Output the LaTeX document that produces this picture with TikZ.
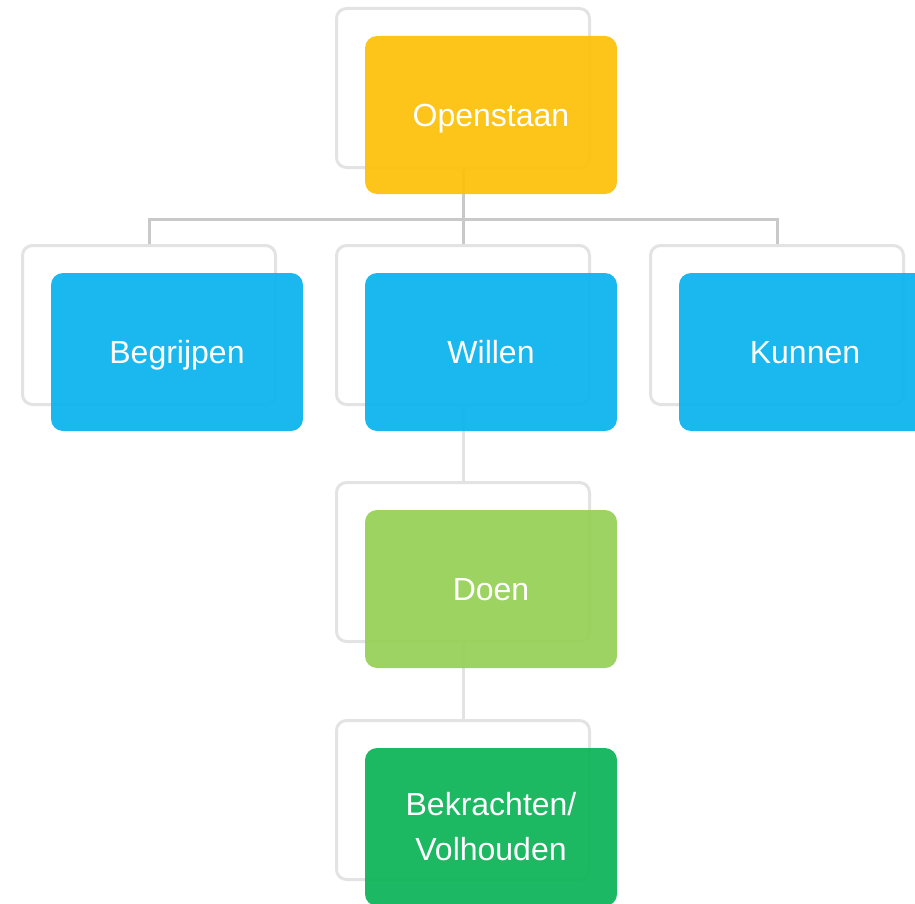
\documentclass[tikz,border=0pt]{standalone}
\usepackage{fontspec}
\setmainfont{Liberation Sans}
\usetikzlibrary{positioning}

\definecolor{oYellow}{HTML}{FDC009}
\definecolor{oBlue}{HTML}{0AB3EE}
\definecolor{oLime}{HTML}{96D056}
\definecolor{oGreen}{HTML}{0CB357}
\definecolor{oFrame}{HTML}{E3E3E3}
\definecolor{oLine}{HTML}{C9C9C9}

\begin{document}
\begin{tikzpicture}[
        node distance=37.5pt and 29pt, % spacing between the back frames
        back/.style={draw=oFrame, line width=1.5pt, rounded corners=5pt,
          minimum width=126.5pt, minimum height=79.5pt, fill=white},
        front/.style={rounded corners=6pt, minimum width=126pt, minimum height=79pt,
          fill opacity=0.93, text opacity=1, text=white, align=center,
          font=\fontsize{16}{22.5}\selectfont},
        oneline/.style={front, text height=11.6pt, text depth=0pt},
        tree/.style={draw=oLine, line width=1.5pt},
        link/.style={draw=oFrame, line width=1.5pt}
      ]
      \useasboundingbox (0,0) rectangle (457.5pt,-452pt);

      % Back frames
      \node[back] (open) at (231.5pt,-44pt) {};
      \node[back, below=of open] (will) {};
      \node[back, left=of will] (begr) {};
      \node[back, right=of will] (kun) {};
      \node[back, below=of will] (doen) {};
      \node[back, below=38pt of doen] (bekr) {};

      % Connectors
      \coordinate (bar) at ([yshift=12.5pt]will.north);
      \draw[tree] (open.south) -- (bar);
      \draw[tree] (begr.north) |- (bar) -| (kun.north);
      \draw[tree] (will.north) -- (bar);
      \draw[link] (will.south) -- (doen.north);
      \draw[link] (doen.south) -- (bekr.north);

      % Coloured boxes
      \node[oneline, fill=oYellow] (openF) at ([xshift=14pt,yshift=-13.5pt]open) {Openstaan};
      \node[oneline, fill=oBlue] (begrF) at ([xshift=14pt,yshift=-13.5pt]begr) {Begrijpen};
      \node[oneline, fill=oBlue] (willF) at ([xshift=14pt,yshift=-13.5pt]will) {Willen};
      \node[oneline, fill=oBlue] (kunF) at ([xshift=14pt,yshift=-13.5pt]kun) {Kunnen};
      \node[oneline, fill=oLime] (doenF) at ([xshift=14pt,yshift=-13.5pt]doen) {Doen};
      \node[front, fill=oGreen] (bekrF) at ([xshift=14pt,yshift=-13.5pt]bekr) {Bekrachten/\\Volhouden};

    \end{tikzpicture}
\end{document}
